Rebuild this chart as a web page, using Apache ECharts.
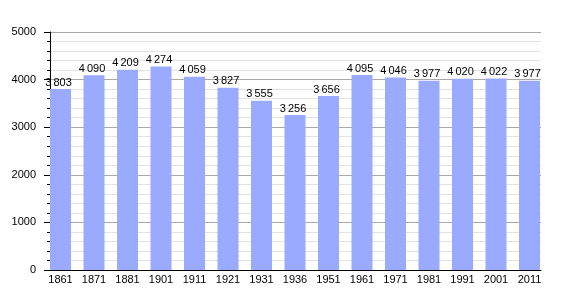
<!DOCTYPE html>
<html>
<head>
<meta charset="utf-8">
<script src="https://cdn.jsdelivr.net/npm/echarts@6/dist/echarts.min.js"></script>
<style>html,body{margin:0;padding:0;background:#fff;}#c{width:570px;height:300px;}</style>
</head>
<body>
<div id="c"></div>
<script>
var years = ['1861','1871','1881','1901','1911','1921','1931','1936','1951','1961','1971','1981','1991','2001','2011'];
var population = [3803,4090,4209,4274,4059,3827,3555,3256,3656,4095,4046,3977,4020,4022,3977];
var yMin = 0, yMax = 5000, yInterval = 1000;

var FONT = 'Liberation Sans';
var chart = echarts.init(document.getElementById('c'), null, {renderer: 'canvas'});
function fmt(v) {
  var s = String(v);
  return s.length > 3 ? s.slice(0, s.length - 3) + '\u2009' + s.slice(-3) : s;
}
chart.setOption({
  animation: false,
  backgroundColor: '#ffffff',
  textStyle: {fontFamily: FONT},
  grid: [
    {left: 50, right: 29, top: 32, bottom: 30},
    {left: 43.75, width: 502.5, top: 32, bottom: 30}
  ],
  xAxis: [
    {gridIndex: 0, type: 'value', min: 0, max: 1,
     axisLine: {show: true, lineStyle: {color: '#000', width: 1}},
     axisTick: {show: false}, axisLabel: {show: false}, splitLine: {show: false}},
    {gridIndex: 1, type: 'category', data: years,
     axisLine: {show: false}, axisTick: {show: false},
     axisLabel: {margin: 4, fontSize: 11, color: '#000', fontFamily: FONT, interval: 0}}
  ],
  yAxis: [
    {gridIndex: 0, type: 'value', min: yMin, max: yMax, interval: yInterval,
     axisLine: {show: true, lineStyle: {color: '#000', width: 1}},
     axisTick: {show: true, length: 6, lineStyle: {color: '#000'}},
     minorTick: {show: true, splitNumber: 5, length: 3, lineStyle: {color: '#000'}},
     axisLabel: {margin: 14, fontSize: 11, color: '#000', fontFamily: FONT,
                 formatter: function (v) { return String(v); }},
     splitLine: {show: true, lineStyle: {color: '#a8a8a8', width: 1}},
     minorSplitLine: {show: true, lineStyle: {color: '#e2e2e2', width: 1}}},
    {gridIndex: 1, type: 'value', min: yMin, max: yMax, show: false}
  ],
  series: [{
    type: 'bar',
    xAxisIndex: 1, yAxisIndex: 1,
    data: population,
    barWidth: 21,
    itemStyle: {color: '#99aaff'},
    label: {show: true, position: 'top', distance: 1, offset: [-2, 0],
            fontSize: 11, color: '#000', fontFamily: FONT,
            formatter: function (p) { return fmt(p.value); }}
  }]
});
</script>
</body>
</html>
